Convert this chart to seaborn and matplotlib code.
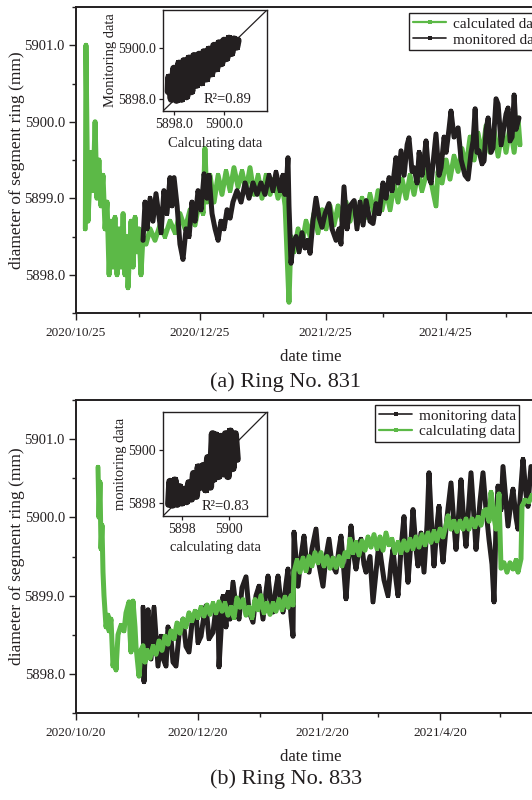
import numpy as np
import pandas as pd
import matplotlib
matplotlib.use("Agg")
import matplotlib.pyplot as plt
import matplotlib.dates as mdates
from matplotlib.ticker import MultipleLocator, FormatStrFormatter, FuncFormatter
from matplotlib.lines import Line2D
import seaborn as sns

# ---------------- data (day offset from start date, value in mm) ----------------
start_831 = "2020-10-25"
start_833 = "2020-10-20"

calc_831 = [(4.6, 5898.6), (4.9, 5901.0), (5.9, 5898.7), (7.4, 5899.6), (8.4, 5899.1), (9.4, 5900.0),
            (10.3, 5899.0), (11.3, 5899.5), (12.3, 5898.9), (13.3, 5899.3), (14.3, 5898.6), (15.3, 5898.95),
            (16.3, 5898.0), (17.2, 5898.7), (18.2, 5898.1), (19.2, 5898.75), (20.2, 5898.0), (21.2, 5898.6),
            (22.2, 5898.1), (23.2, 5898.8), (24.1, 5898.0), (25.1, 5898.5), (25.6, 5897.83), (27.1, 5898.7),
            (28.1, 5898.1), (29.1, 5898.75), (30.0, 5898.3), (31.0, 5898.6), (32.0, 5898.0), (33.0, 5898.5),
            (34.5, 5898.4), (36.5, 5898.6), (38.9, 5898.45), (41.4, 5898.65), (43.8, 5898.5), (46.3, 5898.7),
            (48.8, 5898.55), (51.2, 5898.8), (53.7, 5898.6), (56.2, 5898.85), (58.6, 5898.65), (61.1, 5899.0),
            (62.6, 5898.8), (63.5, 5899.65), (64.5, 5898.95), (66.0, 5899.3), (68.0, 5898.95), (70.0, 5899.3),
            (71.9, 5899.05), (73.9, 5899.35), (75.9, 5899.1), (77.8, 5899.4), (79.8, 5899.15), (81.8, 5899.35),
            (83.7, 5899.1), (85.7, 5899.4), (87.7, 5899.05), (89.7, 5899.3), (91.6, 5899.0), (93.6, 5899.3),
            (95.6, 5899.05), (97.5, 5899.25), (99.5, 5899.0), (101.5, 5899.2), (103.0, 5898.9), (103.9, 5898.3),
            (104.9, 5897.64), (105.9, 5898.5), (107.4, 5898.3), (109.4, 5898.6), (111.3, 5898.4), (113.3, 5898.7),
            (115.3, 5898.5), (117.2, 5898.8), (119.2, 5898.55), (121.2, 5898.85), (123.2, 5898.6), (125.1, 5898.9),
            (127.1, 5898.65), (129.1, 5898.9), (131.0, 5898.7), (133.0, 5898.95), (135.0, 5898.7), (137.0, 5898.95),
            (138.9, 5898.75), (140.9, 5899.0), (142.9, 5898.75), (144.8, 5899.05), (146.8, 5898.8), (148.8, 5899.1),
            (150.7, 5898.85), (152.7, 5899.1), (154.7, 5898.85), (156.7, 5899.2), (158.6, 5898.95), (160.6, 5899.25),
            (162.6, 5899.0), (164.5, 5899.3), (166.5, 5899.05), (168.5, 5899.35), (170.4, 5899.1), (173.4, 5899.4),
            (175.4, 5899.15), (177.3, 5898.9), (178.3, 5899.35), (180.3, 5899.2), (182.3, 5899.5), (184.2, 5899.25),
            (186.2, 5899.55), (188.2, 5899.35), (190.1, 5899.65), (192.1, 5899.4), (194.1, 5899.8), (196.1, 5899.5),
            (198.0, 5899.85), (200.0, 5899.55), (202.0, 5899.95), (203.9, 5899.6), (205.9, 5899.9), (207.9, 5899.55),
            (209.9, 5899.9), (211.8, 5899.6), (213.8, 5899.95), (215.8, 5899.6), (217.7, 5900.05), (218.7, 5899.7)]

mon_831 = [(33.0, 5898.45), (34.0, 5898.95), (35.0, 5898.6), (36.5, 5899.0), (37.9, 5898.7), (39.4, 5899.06),
           (40.9, 5898.75), (41.9, 5898.55), (43.3, 5899.1), (44.8, 5898.8), (46.3, 5899.27), (47.3, 5898.9),
           (48.3, 5899.27), (49.8, 5898.9), (51.2, 5898.4), (52.7, 5898.2), (54.2, 5898.6), (55.7, 5898.5),
           (57.1, 5898.95), (58.6, 5898.7), (60.1, 5899.1), (61.6, 5898.85), (63.1, 5899.32), (64.5, 5899.0),
           (65.5, 5899.3), (67.0, 5898.8), (68.5, 5898.6), (70.0, 5898.45), (71.4, 5898.7), (72.9, 5898.6),
           (74.4, 5898.85), (75.9, 5898.74), (77.3, 5898.95), (79.3, 5899.1), (81.3, 5898.95), (83.3, 5899.2),
           (85.2, 5899.0), (87.2, 5899.2), (89.2, 5899.05), (91.1, 5899.2), (93.1, 5899.05), (95.1, 5899.3),
           (97.0, 5899.1), (98.5, 5899.34), (100.5, 5899.1), (101.9, 5899.3), (102.9, 5899.05), (103.9, 5899.3),
           (104.4, 5899.53), (104.9, 5898.9), (105.9, 5898.15), (106.9, 5898.4), (108.4, 5898.5), (109.9, 5898.3),
           (111.3, 5898.55), (112.8, 5898.35), (114.3, 5898.45), (115.3, 5898.28), (116.7, 5898.7), (118.2, 5899.0),
           (119.7, 5898.75), (121.2, 5898.62), (122.7, 5898.8), (124.6, 5898.93), (126.1, 5898.6), (128.1, 5898.45),
           (129.6, 5898.6), (130.5, 5898.4), (132.0, 5899.15), (133.5, 5898.6), (135.0, 5898.9), (137.0, 5898.97),
           (138.4, 5898.6), (139.9, 5898.95), (141.4, 5898.65), (142.9, 5898.97), (144.8, 5898.7), (146.3, 5898.67),
           (147.8, 5898.93), (149.3, 5898.8), (151.2, 5899.2), (152.7, 5899.0), (154.2, 5899.27), (155.7, 5899.1),
           (157.6, 5899.53), (158.6, 5899.2), (160.1, 5899.62), (161.6, 5899.3), (163.1, 5899.7), (164.0, 5899.79),
           (165.5, 5899.35), (166.5, 5899.4), (168.0, 5899.2), (169.0, 5899.6), (170.4, 5899.3), (171.4, 5899.5),
           (172.4, 5899.75), (173.9, 5899.27), (174.9, 5899.2), (176.4, 5899.6), (177.3, 5899.84), (178.8, 5899.3),
           (179.8, 5899.4), (181.3, 5899.8), (182.3, 5899.6), (183.7, 5899.9), (184.7, 5900.14), (186.2, 5899.8),
           (188.2, 5899.92), (189.7, 5899.5), (191.6, 5899.3), (193.1, 5899.25), (194.6, 5899.6), (195.6, 5899.75),
           (196.6, 5900.17), (197.5, 5899.6), (198.5, 5899.62), (200.0, 5899.45), (201.0, 5899.49), (202.0, 5899.9),
           (203.0, 5900.05), (204.4, 5899.6), (205.4, 5899.66), (206.9, 5900.3), (207.9, 5900.23), (209.4, 5899.7),
           (210.3, 5899.85), (211.8, 5900.1), (212.8, 5900.18), (213.8, 5899.75), (214.8, 5899.8), (215.8, 5900.35),
           (216.7, 5899.9), (218.2, 5900.05)]

calc_833 = [(11.0, 5900.64), (11.5, 5900.0), (12.0, 5900.45), (12.5, 5899.6), (13.0, 5899.9), (13.5, 5899.3),
            (14.0, 5899.0), (14.5, 5898.8), (15.0, 5898.6), (16.0, 5898.75), (16.5, 5898.55), (17.5, 5898.7),
            (18.5, 5898.1), (19.5, 5898.3), (20.0, 5898.05), (21.0, 5898.5), (22.5, 5898.62), (24.0, 5898.55),
            (25.0, 5898.78), (26.5, 5898.92), (27.0, 5898.5), (27.5, 5898.28), (28.5, 5898.93), (29.5, 5898.6),
            (30.0, 5898.35), (31.5, 5897.97), (32.5, 5898.3), (33.5, 5898.36), (34.5, 5898.15), (35.5, 5898.3),
            (37.0, 5898.2), (38.5, 5898.35), (40.0, 5898.25), (41.5, 5898.42), (43.0, 5898.3), (44.5, 5898.48),
            (46.0, 5898.38), (47.5, 5898.55), (49.0, 5898.45), (50.5, 5898.65), (52.0, 5898.52), (53.5, 5898.7),
            (55.0, 5898.6), (56.5, 5898.78), (58.0, 5898.68), (59.5, 5898.8), (61.0, 5898.72), (62.5, 5898.85),
            (64.0, 5898.74), (65.5, 5898.88), (67.0, 5898.76), (68.5, 5898.9), (70.0, 5898.78), (71.5, 5898.92),
            (73.0, 5898.8), (74.5, 5898.9), (76.0, 5898.75), (77.5, 5898.85), (79.0, 5898.72), (80.5, 5898.97),
            (82.0, 5898.85), (83.5, 5898.95), (85.0, 5898.75), (86.5, 5898.85), (88.0, 5898.72), (89.5, 5898.95),
            (91.0, 5898.82), (92.5, 5899.0), (94.0, 5898.78), (95.5, 5898.9), (97.0, 5898.76), (98.5, 5898.9),
            (100.0, 5898.8), (101.5, 5898.95), (103.0, 5898.82), (104.5, 5898.98), (106.0, 5898.85), (107.5, 5899.0),
            (108.5, 5898.88), (109.0, 5899.3), (110.5, 5899.45), (112.0, 5899.3), (113.5, 5899.48), (115.0, 5899.32),
            (116.5, 5899.5), (118.0, 5899.38), (119.5, 5899.55), (121.0, 5899.42), (122.5, 5899.55), (124.0, 5899.38),
            (125.5, 5899.5), (127.0, 5899.35), (128.5, 5899.48), (130.0, 5899.36), (131.5, 5899.5), (133.0, 5899.38),
            (134.5, 5899.55), (136.0, 5899.5), (137.0, 5899.72), (138.5, 5899.55), (140.0, 5899.68), (141.5, 5899.52),
            (143.0, 5899.7), (144.5, 5899.58), (146.0, 5899.75), (147.5, 5899.62), (149.0, 5899.78), (150.5, 5899.6),
            (152.0, 5899.75), (153.5, 5899.58), (155.0, 5899.8), (156.5, 5899.65), (158.0, 5899.72), (159.5, 5899.55),
            (161.0, 5899.68), (162.5, 5899.55), (164.0, 5899.7), (165.5, 5899.58), (167.0, 5899.72), (168.5, 5899.6),
            (170.0, 5899.75), (171.5, 5899.62), (173.0, 5899.78), (174.5, 5899.65), (176.0, 5899.8), (177.5, 5899.68),
            (179.0, 5899.82), (180.5, 5899.7), (182.0, 5899.85), (183.5, 5899.75), (185.0, 5899.9), (186.0, 5900.02),
            (187.5, 5899.85), (189.0, 5899.95), (190.5, 5899.82), (192.0, 5899.95), (193.5, 5899.85), (195.0, 5899.98),
            (196.5, 5899.85), (198.0, 5899.98), (199.5, 5899.88), (201.0, 5900.0), (202.5, 5899.9), (204.0, 5900.08),
            (205.0, 5900.1), (206.5, 5899.95), (207.5, 5900.32), (209.0, 5900.0), (210.0, 5899.85), (211.0, 5900.14),
            (211.5, 5900.3), (212.5, 5899.35), (214.0, 5899.42), (215.5, 5899.3), (217.0, 5899.42), (218.5, 5899.34),
            (220.0, 5899.45), (221.0, 5899.3), (222.5, 5899.47), (223.0, 5900.14), (224.5, 5900.22), (226.5, 5900.2),
            (228.0, 5900.28)]

mon_833 = [(33.5, 5898.85), (34.0, 5897.9), (35.0, 5898.5), (36.0, 5898.82), (37.5, 5898.19), (39.0, 5898.85),
           (41.0, 5898.1), (42.5, 5898.48), (43.5, 5898.2), (45.0, 5898.1), (46.0, 5898.6), (47.5, 5898.45),
           (48.5, 5898.15), (50.0, 5898.1), (51.5, 5898.5), (53.5, 5898.7), (55.0, 5898.35), (56.5, 5898.28),
           (58.0, 5898.65), (60.0, 5898.79), (61.0, 5898.4), (62.5, 5898.48), (64.0, 5898.75), (65.0, 5898.87),
           (66.5, 5898.45), (68.5, 5898.53), (70.0, 5898.85), (71.0, 5898.79), (71.5, 5898.09), (73.5, 5898.99),
           (75.0, 5898.6), (76.0, 5899.04), (77.0, 5898.7), (78.5, 5899.17), (80.0, 5898.85), (81.5, 5898.7),
           (83.0, 5899.1), (85.0, 5899.24), (86.5, 5898.8), (88.5, 5898.66), (90.0, 5899.0), (91.5, 5899.12),
           (93.5, 5898.7), (95.0, 5899.05), (96.0, 5899.25), (97.5, 5898.9), (98.5, 5898.79), (100.0, 5899.1),
           (101.0, 5899.25), (102.5, 5898.9), (103.5, 5898.79), (105.0, 5899.15), (106.0, 5899.34), (107.5, 5898.74),
           (108.5, 5898.48), (109.0, 5899.81), (111.0, 5899.12), (112.5, 5899.5), (114.0, 5899.76), (115.5, 5899.35),
           (116.5, 5899.3), (118.0, 5899.6), (120.0, 5899.85), (121.5, 5899.4), (123.5, 5899.12), (125.0, 5899.5),
           (126.5, 5899.72), (128.0, 5899.4), (130.0, 5899.3), (131.5, 5899.6), (132.5, 5899.76), (134.0, 5899.3),
           (135.0, 5898.96), (136.5, 5899.5), (137.5, 5899.89), (139.0, 5899.5), (140.0, 5899.34), (141.5, 5899.6),
           (142.5, 5899.72), (144.0, 5899.4), (145.0, 5899.3), (147.0, 5899.5), (148.5, 5898.92), (150.0, 5899.3),
           (151.5, 5899.68), (152.5, 5899.47), (154.0, 5899.2), (156.0, 5899.0), (157.5, 5899.4), (158.5, 5899.59),
           (160.0, 5899.2), (161.0, 5899.0), (162.5, 5899.6), (164.0, 5900.01), (165.0, 5899.5), (166.0, 5899.17),
           (167.5, 5899.7), (168.5, 5900.1), (170.0, 5899.6), (171.0, 5899.38), (172.5, 5899.8), (174.0, 5899.3),
           (175.5, 5899.9), (176.5, 5900.57), (178.0, 5899.8), (179.0, 5899.38), (180.5, 5899.9), (181.5, 5900.14),
           (182.5, 5899.7), (183.5, 5899.43), (185.5, 5900.0), (187.5, 5900.44), (189.0, 5899.9), (190.0, 5899.59),
           (191.5, 5900.1), (192.5, 5900.48), (194.0, 5899.9), (195.0, 5899.63), (196.5, 5900.2), (197.5, 5900.57),
           (199.0, 5900.0), (200.0, 5899.59), (202.0, 5900.2), (203.5, 5900.57), (205.0, 5900.1), (206.5, 5899.72),
           (208.0, 5899.4), (209.0, 5898.92), (210.0, 5899.9), (211.0, 5900.4), (212.5, 5900.1), (213.5, 5900.65),
           (215.0, 5900.2), (216.0, 5899.89), (217.5, 5900.2), (218.5, 5900.36), (220.0, 5900.0), (221.0, 5899.85),
           (222.5, 5900.4), (223.5, 5900.74), (225.0, 5900.3), (226.0, 5900.14), (227.0, 5900.5), (227.5, 5900.65)]

# inset scatter (calculated, monitored) pairs
inset_831 = [(5897.78, 5898.3), (5897.8, 5898.85), (5897.9, 5898.0), (5898.0, 5899.2), (5898.1, 5897.96),
             (5898.2, 5899.4), (5898.3, 5898.0), (5898.4, 5899.5), (5898.5, 5898.1), (5898.6, 5899.6),
             (5898.7, 5898.3), (5898.8, 5899.7), (5898.9, 5898.55), (5899.0, 5899.75), (5899.1, 5898.65),
             (5899.2, 5899.85), (5899.3, 5898.8), (5899.4, 5899.95), (5899.5, 5899.0), (5899.6, 5900.1),
             (5899.7, 5899.2), (5899.8, 5900.2), (5899.9, 5899.4), (5900.0, 5900.3), (5900.1, 5899.6),
             (5900.2, 5900.38), (5900.3, 5899.8), (5900.4, 5900.35), (5900.5, 5900.05), (5900.55, 5900.3)]
inset_833 = [(5897.45, 5897.95), (5897.5, 5898.8), (5897.6, 5897.92), (5897.7, 5898.85), (5897.8, 5897.95),
             (5897.9, 5898.6), (5898.0, 5898.0), (5898.1, 5898.5), (5898.2, 5898.05), (5898.3, 5898.75),
             (5898.4, 5898.15), (5898.5, 5899.1), (5898.6, 5898.25), (5898.7, 5899.35), (5898.8, 5898.6),
             (5898.9, 5899.4), (5899.0, 5898.5), (5899.1, 5899.7), (5899.2, 5898.6), (5899.3, 5900.6),
             (5899.35, 5898.9), (5899.45, 5900.55), (5899.55, 5899.0), (5899.65, 5900.5), (5899.75, 5899.1),
             (5899.85, 5900.6), (5899.95, 5899.0), (5900.05, 5900.7), (5900.15, 5899.3), (5900.25, 5900.6),
             (5900.33, 5899.65)]

r2_831 = "0.89"
r2_833 = "0.83"

# ---------------- style ----------------
GREEN = "#5cb947"
BLACK = "#231f20"
sns.set_theme(style="ticks")
plt.rcParams["font.family"] = ["Liberation Serif", "DejaVu Serif"]
plt.rcParams["text.color"] = BLACK
plt.rcParams["axes.labelcolor"] = BLACK
plt.rcParams["xtick.color"] = BLACK
plt.rcParams["ytick.color"] = BLACK
plt.rcParams["axes.edgecolor"] = BLACK

fig = plt.figure(figsize=(5.32, 8.0), dpi=100)


def to_frame(pairs, start):
    d = pd.DataFrame(pairs, columns=["day", "value"])
    d["date"] = pd.Timestamp(start) + pd.to_timedelta(d["day"], unit="D")
    return d


def date_fmt(x, pos):
    d = mdates.num2date(x)
    return f"{d.year}/{d.month}/{d.day}"


def style_main(ax, start, span_days, major_months, minor_months, day):
    t0 = pd.Timestamp(start)
    ax.set_xlim(t0, t0 + pd.Timedelta(days=span_days))
    ax.set_ylim(5897.5, 5901.5)
    ax.yaxis.set_major_locator(MultipleLocator(1.0))
    ax.yaxis.set_minor_locator(MultipleLocator(0.5))
    ax.yaxis.set_major_formatter(FormatStrFormatter("%.1f"))
    ax.xaxis.set_major_locator(mdates.MonthLocator(bymonth=major_months, bymonthday=day))
    ax.xaxis.set_minor_locator(mdates.MonthLocator(bymonth=minor_months, bymonthday=day))
    ax.xaxis.set_major_formatter(FuncFormatter(date_fmt))
    ax.tick_params(axis="both", which="major", direction="out", length=5, width=1.0)
    ax.tick_params(axis="both", which="minor", direction="out", length=3, width=1.0)
    ax.tick_params(axis="x", labelsize=9.5, pad=5)
    ax.tick_params(axis="y", labelsize=10.5, pad=3)
    for s in ax.spines.values():
        s.set_linewidth(1.4)
        s.set_visible(True)
    ax.set_xlabel("date time", fontsize=12, labelpad=7)
    ax.set_ylabel("diameter of segment ring (mm)", fontsize=12.5)
    ax.yaxis.set_label_coords(-51 / 469, 0.5)
    ax.grid(False)


def draw_series(ax, d, color):
    sns.lineplot(data=d, x="date", y="value", ax=ax, color=color, sort=False, estimator=None,
                 linewidth=3.6, marker="s", markersize=3.4, markeredgewidth=0, legend=False)


def inset(rect, pairs, xlim, ylim, fmt, r2, r2pos, ylab, xlab):
    ins = fig.add_axes(rect)
    d = pd.DataFrame(pairs, columns=["calc", "mon"])
    sns.lineplot(data=d, x="calc", y="mon", ax=ins, color=BLACK, sort=False, estimator=None,
                 linewidth=5.5, marker="s", markersize=4, markeredgewidth=0, legend=False)
    ins.plot([0, 1], [0, 1], transform=ins.transAxes, color=BLACK, linewidth=0.9)
    ins.set_xlim(*xlim)
    ins.set_ylim(*ylim)
    ins.set_xticks([5898, 5900])
    ins.set_yticks([5898, 5900])
    ins.xaxis.set_major_formatter(FormatStrFormatter(fmt))
    ins.yaxis.set_major_formatter(FormatStrFormatter(fmt))
    ins.tick_params(direction="out", length=3, width=0.9, labelsize=10, pad=2)
    for s in ins.spines.values():
        s.set_linewidth(1.0)
    ins.set_xlabel(xlab, fontsize=10.5, labelpad=4)
    ins.set_ylabel(ylab, fontsize=10.5, labelpad=1)
    ins.text(r2pos[0], r2pos[1], "R\u00b2=" + r2, transform=ins.transAxes, fontsize=10.5,
             ha="center", va="center")
    ins.grid(False)
    return ins


# ---------------- panel (a) ----------------
ax1 = fig.add_axes([76 / 532, 1 - 313 / 800, 469 / 532, 306 / 800])
dc1 = to_frame(calc_831, start_831)
dm1 = to_frame(mon_831, start_831)
draw_series(ax1, dc1, GREEN)
draw_series(ax1, dm1, BLACK)
style_main(ax1, start_831, 231, [10, 12, 2, 4, 6], [11, 1, 3, 5], 25)
h1 = [Line2D([], [], color=GREEN, lw=1.6, marker="s", markersize=2.5, markeredgewidth=0),
      Line2D([], [], color=BLACK, lw=1.2, marker="s", markersize=2.5, markeredgewidth=0)]
leg1 = ax1.legend(h1, ["calculated data", "monitored data"], loc="upper left",
                  bbox_to_anchor=(409 / 532, 1 - 13 / 800), bbox_transform=fig.transFigure,
                  borderaxespad=0, fontsize=11, frameon=True, fancybox=False, framealpha=1,
                  edgecolor=BLACK, borderpad=0.25, labelspacing=0.15, handlelength=2.2,
                  handletextpad=0.4)
leg1.get_frame().set_linewidth(1.0)
inset([163 / 532, 1 - 111 / 800, 104 / 532, 101 / 800], inset_831, (5897.56, 5901.72),
      (5897.53, 5901.5), "%.1f", r2_831, (0.62, 0.11), "Monitoring data", "Calculating data")
fig.text(286 / 532, 1 - 382 / 800, "(a) Ring No. 831", fontsize=16, ha="center", va="center")

# ---------------- panel (b) ----------------
ax2 = fig.add_axes([76 / 532, 1 - 713 / 800, 469 / 532, 313 / 800])
dc2 = to_frame(calc_833, start_833)
dm2 = to_frame(mon_833, start_833)
draw_series(ax2, dm2, BLACK)
draw_series(ax2, dc2, GREEN)
style_main(ax2, start_833, 234.5, [10, 12, 2, 4, 6], [11, 1, 3, 5], 20)
h2 = [Line2D([], [], color=BLACK, lw=1.2, marker="s", markersize=2.5, markeredgewidth=0),
      Line2D([], [], color=GREEN, lw=1.6, marker="s", markersize=2.5, markeredgewidth=0)]
leg2 = ax2.legend(h2, ["monitoring data", "calculating data"], loc="upper left",
                  bbox_to_anchor=(375 / 532, 1 - 405 / 800), bbox_transform=fig.transFigure,
                  borderaxespad=0, fontsize=11, frameon=True, fancybox=False, framealpha=1,
                  edgecolor=BLACK, borderpad=0.25, labelspacing=0.15, handlelength=2.2,
                  handletextpad=0.4)
leg2.get_frame().set_linewidth(1.0)
inset([163 / 532, 1 - 516 / 800, 104 / 532, 104 / 800], inset_833, (5897.2, 5901.6),
      (5897.5, 5901.43), "%d", r2_833, (0.6, 0.09), "monitoring data", "calculating data")
fig.text(286 / 532, 1 - 779 / 800, "(b) Ring No. 833", fontsize=16, ha="center", va="center")

fig.savefig("out.png", dpi=100)
